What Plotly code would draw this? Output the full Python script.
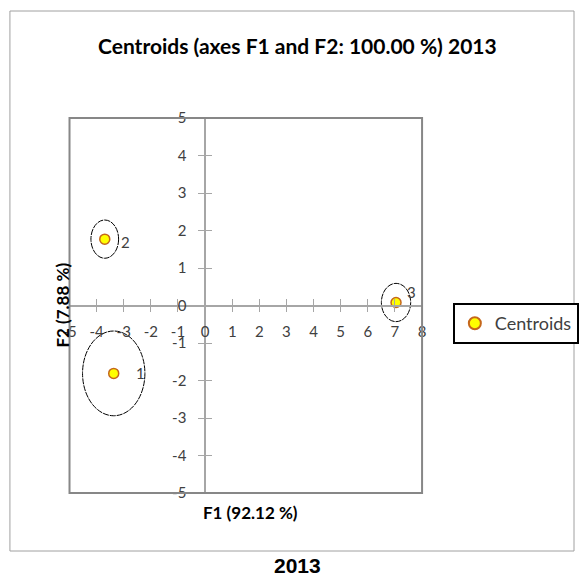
import plotly.graph_objects as go

# Class centroids in the F1/F2 factor plane
labels = ["1", "2", "3"]
f1 = [-3.37, -3.70, 7.04]
f2 = [-1.81, 1.77, 0.08]
# Confidence ellipse half-axes around each centroid
rx = [1.15, 0.51, 0.54]
ry = [1.13, 0.51, 0.51]

x_ticks = list(range(-5, 9))
x_tick_text = [str(v) for v in x_ticks]
y_ticks = list(range(-5, 6))
y_tick_text = [str(v) for v in y_ticks]
x_range = [-5, 8]
y_range = [-5, 5]

W, H = 579, 577
px = lambda v: v / W
py = lambda v: 1 - v / H

xdom = [px(70), px(425)]
ydom = [py(493), py(118)]
# paper position of the zero lines
x_axis_pos = ydom[0] + (0 - y_range[0]) / (y_range[1] - y_range[0]) * (ydom[1] - ydom[0])
y_axis_pos = xdom[0] + (0 - x_range[0]) / (x_range[1] - x_range[0]) * (xdom[1] - xdom[0])

FONT = "Lato"
TXT = "#404040"
AXC = "#A6A6A6"

fig = go.Figure()
fig.add_trace(go.Scatter(
    x=f1, y=f2, mode="markers", name="Centroids",
    marker=dict(size=10, color="#FFFF00", line=dict(color="#C5671B", width=1.5)),
    showlegend=True,
))

# ellipses
for cx, cy, a, b in zip(f1, f2, rx, ry):
    fig.add_shape(type="circle", xref="x", yref="y",
                  x0=cx - a, x1=cx + a, y0=cy - b, y1=cy + b,
                  line=dict(color="black", width=1, dash="6px,1px"), layer="below")

# point labels
shifts = [(27, 0), (21, -3), (15, 11)]
for lab, cx, cy, (dx, dy) in zip(labels, f1, f2, shifts):
    fig.add_annotation(x=cx, y=cy, text=lab, showarrow=False, xshift=dx, yshift=dy,
                       xanchor="center", yanchor="middle",
                       font=dict(family=FONT, size=15, color=TXT))

common_x = dict(range=x_range, domain=xdom, tickvals=x_ticks, ticktext=x_tick_text,
                showgrid=False, zeroline=False, automargin=False,
                showline=True, linecolor=AXC, linewidth=1.5, tickcolor=AXC, ticklen=6,
                tickwidth=1, anchor="free", position=x_axis_pos, fixedrange=True)
common_y = dict(range=y_range, domain=ydom, tickvals=y_ticks, ticktext=y_tick_text,
                showgrid=False, zeroline=False, automargin=False,
                showline=True, linecolor=AXC, linewidth=1.5, tickcolor=AXC, ticklen=6,
                tickwidth=1, anchor="free", position=y_axis_pos, fixedrange=True)

fig.update_layout(
    width=W, height=H,
    margin=dict(l=0, r=0, t=0, b=0),
    paper_bgcolor="white", plot_bgcolor="white",
    xaxis=dict(**common_x, ticks="outside", ticklabelstandoff=7,
               tickfont=dict(family=FONT, size=15, color=TXT)),
    xaxis2=dict(**common_x, ticks="inside", showticklabels=False, overlaying="x", matches="x"),
    yaxis=dict(**common_y, ticks="outside", ticklabelstandoff=9,
               tickfont=dict(family=FONT, size=15, color=TXT)),
    yaxis2=dict(**common_y, ticks="inside", showticklabels=False, overlaying="y", matches="y"),
    legend=dict(x=px(456), y=py(303), xanchor="left", yanchor="top",
                bordercolor="black", borderwidth=2, bgcolor="white",
                font=dict(family=FONT, size=18, color=TXT), itemsizing="constant"),
    showlegend=True,
)

# dummy trace to activate the crossing-tick axes
fig.add_trace(go.Scatter(x=[None], y=[None], xaxis="x2", yaxis="y2", showlegend=False))

# plot frame and outer chart border
fig.add_shape(type="rect", xref="x domain", yref="y domain", x0=0, x1=1, y0=0, y1=1,
              line=dict(color="#878787", width=2))
fig.add_shape(type="rect", xref="paper", yref="paper", x0=px(10), x1=px(578), y0=py(551), y1=py(11),
              line=dict(color="#A0A0A0", width=1))

def label(x, y, text, size, family=FONT, angle=0):
    fig.add_annotation(xref="paper", yref="paper", x=px(x), y=py(y), text=text, textangle=angle,
                       xanchor="center", yanchor="middle", showarrow=False,
                       font=dict(family=family, size=size, color="black"))

label(300, 45, "<b>Centroids (axes F1 and F2: 100.00 %) 2013</b>", 21)
label(252, 512, "<b>F1 (92.12 %)</b>", 17)
label(62, 305, "<b>F2 (7.88 %)</b>", 17, angle=-90)
label(300, 565, "<b>2013</b>", 21, family="Liberation Sans")

fig.write_html("out.html", post_script="document.body.style.margin='0';")
